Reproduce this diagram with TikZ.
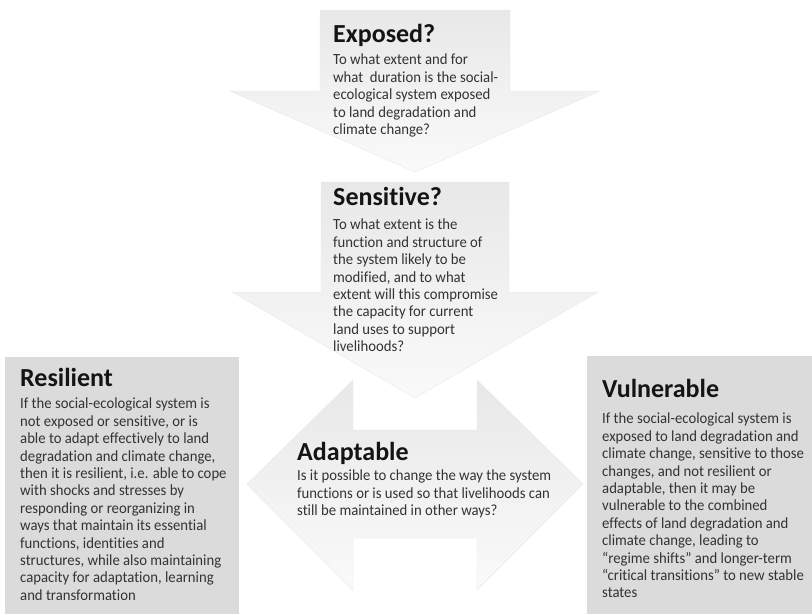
\documentclass[tikz,border=0pt]{standalone}
\usepackage{fontspec}
\setmainfont[Ligatures=CommonOff]{Carlito}
\newfontfamily\bodyfont[Ligatures=CommonOff,FakeStretch=0.95]{Carlito}

\begin{document}
\begin{tikzpicture}[x=1pt,y=-1pt,
	heading/.style={anchor=base west,inner sep=0pt,font=\fontsize{26}{30}\selectfont\bfseries,text=black!92},
	bodytext/.style={anchor=north west,inner sep=0pt,align=left,font=\bodyfont\fontsize{15.5}{17.4}\selectfont,text=black!80},
	arrowfill/.style={top color=black!9,bottom color=black!2,draw=black!9,line width=0.4pt},
	greybox/.style={fill=black!14}]
	\useasboundingbox (0,0) rectangle (812,614);

	\path[arrowfill] (320,10) -- (510,10) -- (510,91) -- (600,91) -- (415,172) -- (230,91) -- (320,91) -- cycle;
	\path[arrowfill] (321,182) -- (509,182) -- (509,292) -- (598,292) -- (415,398) -- (232,292) -- (321,292) -- cycle;
	\path[arrowfill] (247,484) -- (353,380) -- (353,430) -- (477,430) -- (477,380) -- (583,484) -- (477,590) -- (477,538) -- (353,538) -- (353,590) -- cycle;

	\fill[greybox] (5,357) rectangle (239,614);
	\fill[greybox] (587,356) rectangle (812,614);

	\node[heading] (exposedhead) at (333,42) {Exposed?};
	\node[bodytext] (exposedtext) at (333,54) {To what extent and for\\what\ \ duration is the social-\\ecological system exposed\\to land degradation and\\climate change?};

	\node[heading] (sensitivehead) at (333,205) {Sensitive?};
	\node[bodytext] (sensitivetext) at (333,219) {To what extent is the\\function and structure of\\the system likely to be\\modified, and to what\\extent will this compromise\\the capacity for current\\land uses to support\\livelihoods?};

	\node[heading] (adaptablehead) at (297,460) {Adaptable};
	\node[bodytext] (adaptabletext) at (297,470) {Is it possible to change the way the system\\functions or is used so that livelihoods can\\still be maintained in other ways?};

	\node[heading] (resilienthead) at (20,386) {Resilient};
	\node[bodytext] (resilienttext) at (20,398) {If the social-ecological system is\\not exposed or sensitive, or is\\able to adapt effectively to land\\degradation and climate change,\\then it is resilient, i.e. able to cope\\with shocks and stresses by\\responding or reorganizing in\\ways that maintain its essential\\functions, identities and\\structures, while also maintaining\\capacity for adaptation, learning\\and transformation};

	\node[heading] (vulnerablehead) at (602,397) {Vulnerable};
	\node[bodytext] (vulnerabletext) at (602,413) {If the social-ecological system is\\exposed to land degradation and\\climate change, sensitive to those\\changes, and not resilient or\\adaptable, then it may be\\vulnerable to the combined\\effects of land degradation and\\climate change, leading to\\“regime shifts” and longer-term\\“critical transitions” to new stable\\states};
\end{tikzpicture}
\end{document}
